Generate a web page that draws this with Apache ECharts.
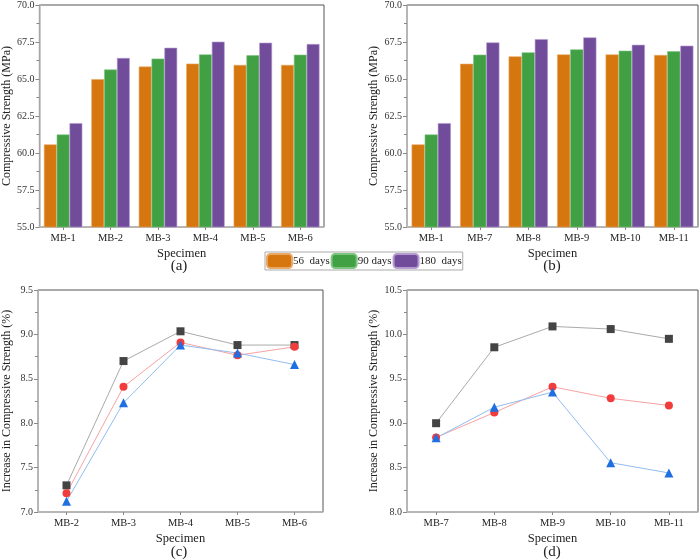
<!DOCTYPE html>
<html>
<head>
<meta charset="utf-8">
<script src="https://cdn.jsdelivr.net/npm/echarts@6/dist/echarts.min.js"></script>
<style>
  html, body { margin: 0; padding: 0; background: #fff; }
  #chart { width: 700px; height: 560px; }
</style>
</head>
<body>
<div id="chart"></div>
<script>
// bar charts (a) and (b)
var catsA = ['MB-1', 'MB-2', 'MB-3', 'MB-4', 'MB-5', 'MB-6'];
var catsB = ['MB-1', 'MB-7', 'MB-8', 'MB-9', 'MB-10', 'MB-11'];
var d56A  = [60.58, 64.99, 65.84, 66.04, 65.95, 65.95];
var d90A  = [61.25, 65.64, 66.38, 66.66, 66.60, 66.64];
var d180A = [62.02, 66.42, 67.11, 67.52, 67.45, 67.36];
var d56B  = [60.58, 66.03, 66.53, 66.66, 66.66, 66.62];
var d90B  = [61.25, 66.64, 66.80, 67.00, 66.91, 66.87];
var d180B = [62.02, 67.47, 67.69, 67.81, 67.31, 67.25];

// line charts (c) and (d)
var catsC = ['MB-2', 'MB-3', 'MB-4', 'MB-5', 'MB-6'];
var catsD = ['MB-7', 'MB-8', 'MB-9', 'MB-10', 'MB-11'];
var sqC  = [7.30, 8.70, 9.035, 8.88, 8.88];
var cirC = [7.21, 8.41, 8.91, 8.765, 8.86];
var triC = [7.12, 8.23, 8.88, 8.79, 8.66];
var sqD  = [9.00, 9.855, 10.09, 10.06, 9.95];
var cirD = [8.84, 9.12, 9.41, 9.28, 9.20];
var triD = [8.835, 9.18, 9.35, 8.555, 8.44];

var legendNames = ['56  days', '90 days', '180  days'];
var barColors = ['#D5760F', '#41A043', '#714C9A'];
var barEdges = ['#E9A765', '#7CC37D', '#B59BD0'];

var FONT = 'Liberation Serif';
var chart = echarts.init(document.getElementById('chart'));

var grids = [
  { left: 34, top: 3, width: 290, height: 224 },
  { left: 407, top: 3, width: 291, height: 224 },
  { left: 36, top: 290, width: 287, height: 222 },
  { left: 407, top: 290, width: 291, height: 222 }
];
grids.forEach(function (g) {
  g.show = true;
  g.borderColor = '#555';
  g.borderWidth = 1;
  g.backgroundColor = '#fff';
});

function xAx(idx, cats, boundary) {
  return {
    type: 'category', gridIndex: idx, data: cats, boundaryGap: boundary,
    name: 'Specimen', nameLocation: 'middle', nameGap: 20,
    nameTextStyle: { fontFamily: FONT, fontSize: 12.5, color: '#222' },
    axisLine: { lineStyle: { color: '#bbb', width: 1.5 } },
    axisTick: { show: true, alignWithLabel: true, length: 3, lineStyle: { color: '#888' } },
    axisLabel: { fontFamily: FONT, fontSize: 10.5, color: '#222', margin: 6, interval: 0 },
    splitLine: { show: false }
  };
}
function yAx(idx, name, min, max, interval, gap) {
  return {
    type: 'value', gridIndex: idx, min: min, max: max, interval: interval,
    name: name, nameLocation: 'middle', nameGap: gap,
    nameTextStyle: { fontFamily: FONT, fontSize: 12, color: '#222' },
    axisLine: { show: true, lineStyle: { color: '#bbb', width: 1.5 } },
    axisTick: { show: true, length: 4, lineStyle: { color: '#888' } },
    minorTick: { show: true, splitNumber: 2, length: 3, lineStyle: { color: '#888' } },
    axisLabel: { fontFamily: FONT, fontSize: 10, color: '#333', margin: 5,
      formatter: function (v) { return v.toFixed(1); } },
    splitLine: { show: false }
  };
}

function barSeries(gi, arrs) {
  return arrs.map(function (arr, i) {
    return {
      name: legendNames[i], type: 'bar', xAxisIndex: gi, yAxisIndex: gi,
      data: arr, barGap: '0%', barCategoryGap: '19%',
      itemStyle: { color: barColors[i], borderColor: barEdges[i], borderWidth: 0.6 }
    };
  });
}
function lineSeries(gi, sq, cir, tri) {
  var specs = [
    { d: sq, sym: 'rect', mc: '#444', lc: '#aaa', size: 8 },
    { d: cir, sym: 'circle', mc: '#F23B3B', lc: '#F7A3A3', size: 8 },
    { d: tri, sym: 'triangle', mc: '#1F6FE0', lc: '#92BDF0', size: 9 }
  ];
  return specs.map(function (s) {
    return {
      type: 'line', xAxisIndex: gi, yAxisIndex: gi, data: s.d,
      symbol: s.sym, symbolSize: s.size, showSymbol: true,
      itemStyle: { color: s.mc }, lineStyle: { color: s.lc, width: 1 }
    };
  });
}

function panelTitle(txt, cx, top) {
  return {
    text: txt, left: cx, top: top, textAlign: 'center', padding: 0,
    textStyle: { fontFamily: FONT, fontSize: 15, fontWeight: 'normal', color: '#222' }
  };
}

chart.setOption({
  animation: false,
  backgroundColor: '#fff',
  title: [
    panelTitle('(a)', 179, 259),
    panelTitle('(b)', 552, 259),
    panelTitle('(c)', 179, 545),
    panelTitle('(d)', 552, 545)
  ],
  legend: {
    data: legendNames, left: 265, top: 252,
    itemWidth: 25, itemHeight: 14, itemGap: 1, padding: [1, 1, 1, 1],
    borderColor: '#aaa', borderWidth: 1, backgroundColor: '#fff',
    textStyle: { fontFamily: FONT, fontSize: 11, color: '#222', padding: [0, 0, 0, -4] }
  },
  grid: grids,
  xAxis: [xAx(0, catsA, true), xAx(1, catsB, true), xAx(2, catsC, ['10%', '10%']), xAx(3, catsD, ['10%', '10%'])],
  yAxis: [
    yAx(0, 'Compressive Strength (MPa)', 55, 70, 2.5, 25),
    yAx(1, 'Compressive Strength (MPa)', 55, 70, 2.5, 27),
    yAx(2, 'Increase in Compressive Strength (%)', 7, 9.5, 0.5, 25),
    yAx(3, 'Increase in Compressive Strength (%)', 8, 10.5, 0.5, 27)
  ],
  series: [].concat(
    barSeries(0, [d56A, d90A, d180A]),
    barSeries(1, [d56B, d90B, d180B]),
    lineSeries(2, sqC, cirC, triC),
    lineSeries(3, sqD, cirD, triD)
  )
});
</script>
</body>
</html>
